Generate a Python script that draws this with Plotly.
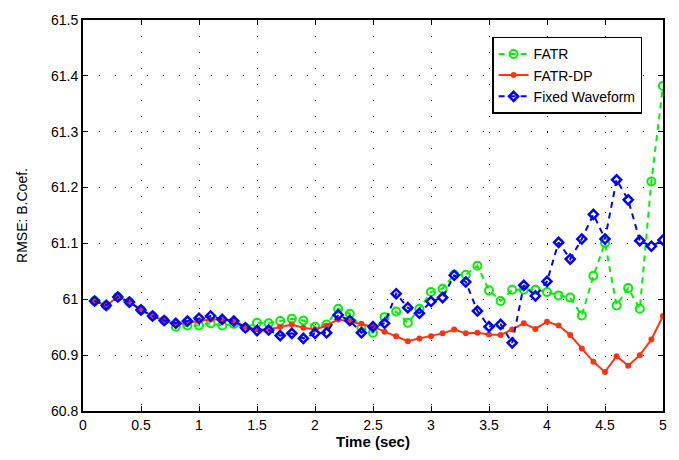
import plotly.graph_objects as go

# Time instants (sec)
time_s = [round(0.1 * k, 1) for k in range(1, 51)]

fatr = [
    60.997, 60.989, 61.004, 60.995, 60.981, 60.970, 60.962, 60.951, 60.953, 60.953,
    60.957, 60.953, 60.956, 60.949, 60.958, 60.957, 60.961, 60.965, 60.962, 60.951,
    60.955, 60.983, 60.974, 60.949, 60.940, 60.968, 60.978, 60.958, 60.983, 61.013,
    61.019, 61.044, 61.044, 61.060, 61.016, 60.997, 61.017, 61.017, 61.017, 61.013,
    61.007, 61.003, 60.971, 61.042, 61.101, 60.989, 61.020, 60.983, 61.211, 61.382,
]
fatr_dp = [
    60.997, 60.989, 61.004, 60.995, 60.981, 60.970, 60.962, 60.955, 60.958, 60.961,
    60.964, 60.964, 60.961, 60.951, 60.946, 60.946, 60.951, 60.955, 60.949, 60.946,
    60.953, 60.964, 60.960, 60.956, 60.951, 60.942, 60.934, 60.925, 60.930, 60.934,
    60.939, 60.946, 60.939, 60.940, 60.937, 60.936, 60.946, 60.957, 60.947, 60.960,
    60.953, 60.936, 60.912, 60.888, 60.870, 60.898, 60.881, 60.900, 60.928, 60.970,
]
fixed_wf = [
    60.997, 60.989, 61.004, 60.995, 60.981, 60.970, 60.962, 60.957, 60.961, 60.966,
    60.970, 60.964, 60.961, 60.949, 60.944, 60.945, 60.935, 60.939, 60.930, 60.939,
    60.940, 60.972, 60.962, 60.940, 60.951, 60.957, 61.010, 60.985, 60.975, 60.996,
    61.003, 61.043, 61.031, 60.979, 60.951, 60.955, 60.922, 61.025, 61.006, 61.032,
    61.102, 61.072, 61.108, 61.152, 61.108, 61.214, 61.178, 61.105, 61.095, 61.106,
]

x_ticks = [0, 0.5, 1, 1.5, 2, 2.5, 3, 3.5, 4, 4.5, 5]
x_labels = ["0", "0.5", "1", "1.5", "2", "2.5", "3", "3.5", "4", "4.5", "5"]
y_ticks = [60.8, 60.9, 61.0, 61.1, 61.2, 61.3, 61.4, 61.5]
y_labels = ["60.8", "60.9", "61", "61.1", "61.2", "61.3", "61.4", "61.5"]

GREEN = "#00ee00"
RED = "#ff3311"
BLUE = "#0000ff"
FONT = "Liberation Sans, Arial, sans-serif"

fig = go.Figure()
fig.add_trace(go.Scatter(
    x=time_s, y=fatr, name="FATR", mode="lines+markers",
    line=dict(color=GREEN, width=2, dash="6px,5px"),
    marker=dict(symbol="circle-open", size=8, color=GREEN, line=dict(width=2, color=GREEN)),
))
fig.add_trace(go.Scatter(
    x=time_s, y=fatr_dp, name="FATR-DP", mode="lines+markers",
    line=dict(color=RED, width=2),
    marker=dict(symbol="circle", size=6, color=RED),
))
fig.add_trace(go.Scatter(
    x=time_s, y=fixed_wf, name="Fixed Waveform", mode="lines+markers",
    line=dict(color=BLUE, width=2, dash="6px,5px"),
    marker=dict(symbol="diamond-open", size=7, color=BLUE, line=dict(width=2.5, color=BLUE)),
))

axis_common = dict(
    showline=True, linecolor="black", linewidth=2, mirror="ticks",
    ticks="inside", ticklen=5, tickwidth=1, tickcolor="black",
    showgrid=True, gridcolor="black", gridwidth=1.2, griddash="1px,15px",
    zeroline=False,
    tickfont=dict(family=FONT, size=14, color="black"),
)

fig.update_xaxes(
    range=[0, 5], tickvals=x_ticks, ticktext=x_labels,
    title=dict(text="<b>Time (sec)</b>", standoff=2,
               font=dict(family=FONT, size=15, color="black")),
    **axis_common,
)
fig.update_yaxes(
    range=[60.8, 61.5], tickvals=y_ticks, ticktext=y_labels,
    title=dict(text="RMSE: B.Coef.", standoff=20,
               font=dict(family=FONT, size=14, color="black")),
    **axis_common,
)

fig.update_layout(
    width=679, height=460,
    margin=dict(l=83, r=15, t=14, b=49),
    plot_bgcolor="white", paper_bgcolor="white",
    showlegend=True,
    legend=dict(
        x=0.964, y=0.957, xanchor="right", yanchor="top",
        bgcolor="white", bordercolor="black", borderwidth=1.5,
        font=dict(family=FONT, size=14, color="black"),
        tracegroupgap=0, itemwidth=30,
    ),
)

fig.write_html("out.html")
